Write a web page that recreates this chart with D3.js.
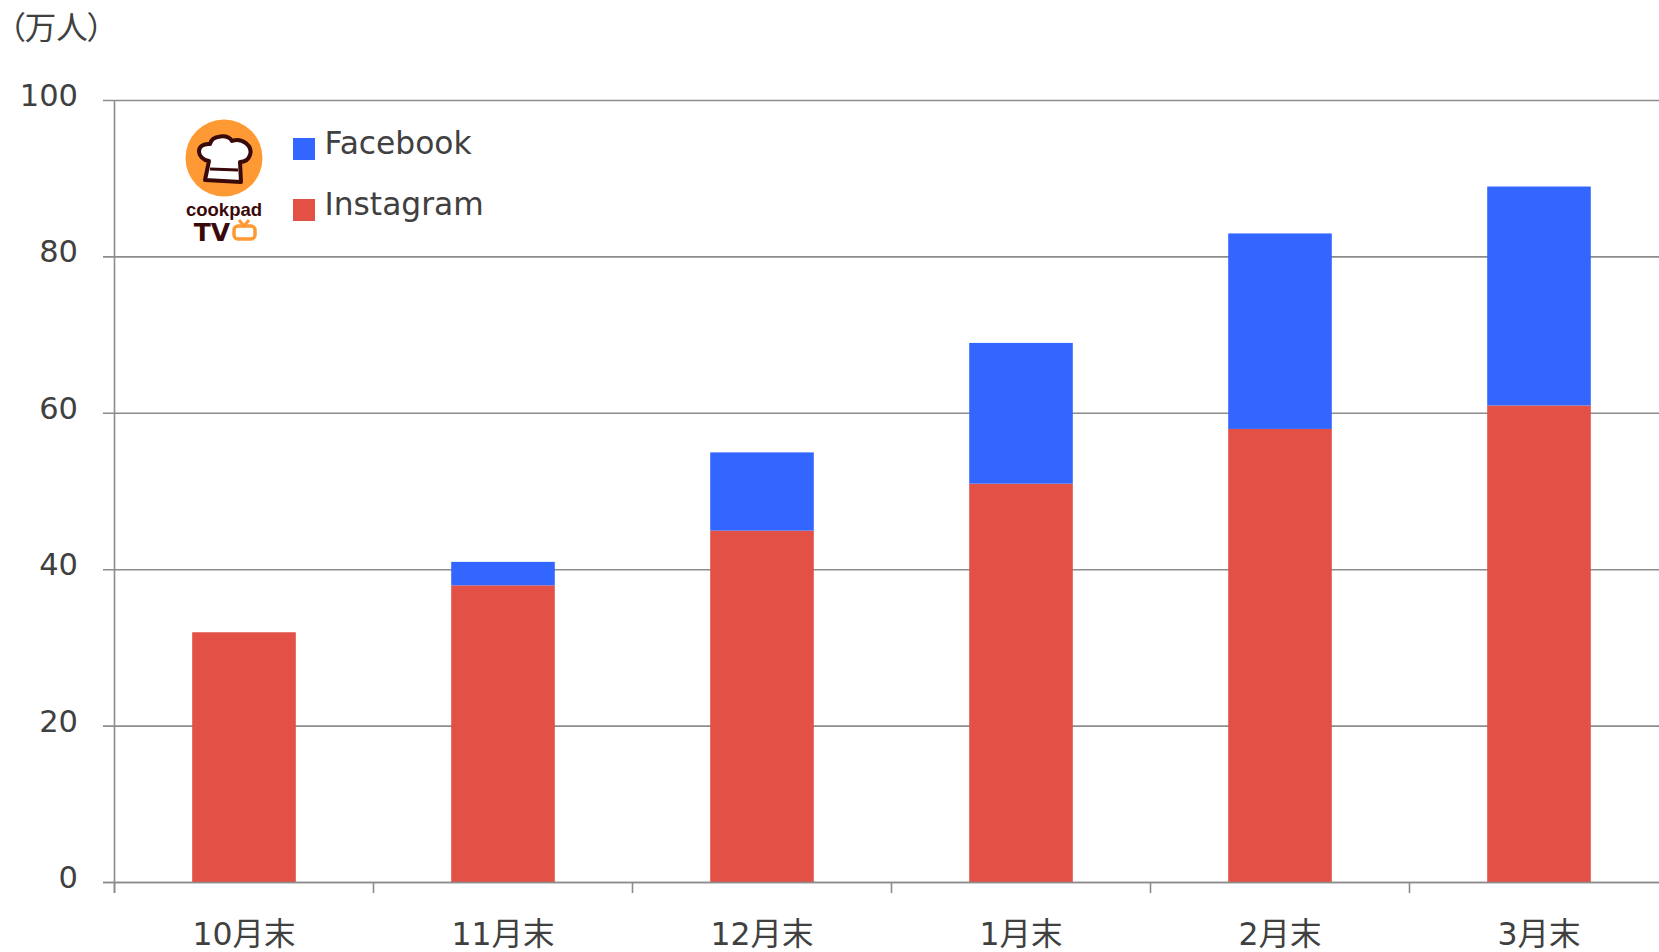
<!DOCTYPE html>
<html><head><meta charset="utf-8">
<script src="https://cdnjs.cloudflare.com/ajax/libs/d3/7.8.5/d3.min.js"></script>
<style>
html,body{margin:0;padding:0;background:#fff;overflow:hidden}
text{font-family:"DejaVu Sans","Noto Sans CJK JP",sans-serif;fill:#404040}
</style></head><body>
<svg id="c" width="1659" height="952"></svg>
<script>
const categories=["10月末","11月末","12月末","1月末","2月末","3月末"];
const instagram=[32,38,45,51,58,61];
const facebook=[0,3,10,18,25,28];
const yTicks=[0,20,40,60,80,100];
const unitLabel="（万人）";
const seriesNames=["Facebook","Instagram"];
const colors={Facebook:"#3366ff",Instagram:"#e25046"};
const axisColor="#8c8c8c";

const svg=d3.select("#c");
const x=d3.scaleBand().domain(categories).range([114.5,1668.5]).paddingInner(0.6).paddingOuter(0.3);
const band=d3.scaleBand().domain(categories).range([114.5,1668.5]);
const y=d3.scaleLinear().domain([0,100]).range([882.5,100.5]);

// gridlines
svg.append("g").selectAll("line").data(yTicks).join("line")
  .attr("x1",103).attr("x2",1659).attr("y1",d=>y(d)).attr("y2",d=>y(d))
  .attr("stroke",axisColor).attr("stroke-width",1.6);
// y axis line
svg.append("line").attr("x1",114.5).attr("x2",114.5).attr("y1",y(100)).attr("y2",893)
  .attr("stroke",axisColor).attr("stroke-width",1.6);
// category ticks
svg.append("g").selectAll("line").data(categories).join("line")
  .attr("x1",d=>band(d)).attr("x2",d=>band(d)).attr("y1",y(0)).attr("y2",893)
  .attr("stroke",axisColor).attr("stroke-width",1.6);

// bars
const bars=svg.append("g");
bars.selectAll("rect.ig").data(categories).join("rect").attr("class","ig")
  .attr("x",d=>x(d)).attr("width",x.bandwidth())
  .attr("y",(d,i)=>y(instagram[i])).attr("height",(d,i)=>y(0)-y(instagram[i]))
  .attr("fill",colors.Instagram);
bars.selectAll("rect.fb").data(categories).join("rect").attr("class","fb")
  .attr("x",d=>x(d)).attr("width",x.bandwidth())
  .attr("y",(d,i)=>y(instagram[i]+facebook[i])).attr("height",(d,i)=>y(instagram[i])-y(instagram[i]+facebook[i]))
  .attr("fill",colors.Facebook);
// redraw axis baseline on top of bars
svg.append("line").attr("x1",103).attr("x2",1659).attr("y1",y(0)).attr("y2",y(0))
  .attr("stroke",axisColor).attr("stroke-width",1.6);

// labels
svg.append("g").selectAll("text").data(yTicks).join("text")
  .attr("x",78).attr("y",d=>y(d)-5.5).attr("dy","0.36em").attr("text-anchor","end")
  .style("font-size","30.5px").text(d=>d);
svg.append("g").selectAll("text").data(categories).join("text")
  .attr("x",d=>x(d)+x.bandwidth()/2).attr("y",945).attr("text-anchor","middle")
  .style("font-size","31.5px").text(d=>d);
svg.append("text").attr("x",9).attr("y",39).style("font-size","31.5px").style("font-family",'"Noto Sans CJK JP"')
  .style("font-feature-settings",'"palt"').text(unitLabel);

// legend
const legend=svg.append("g");
seriesNames.forEach((s,i)=>{
  const g=legend.append("g").attr("transform",`translate(293,${138+i*61})`);
  g.append("rect").attr("width",22).attr("height",22).attr("fill",colors[s]);
  g.append("text").attr("x",31.5).attr("y",16).style("font-size","31.3px").text(s);
});

// logo
const logo=svg.append("g").attr("transform","translate(224,158)");
logo.append("circle").attr("r",38.5).attr("fill","#ff9933");
logo.append("path")
  .attr("d","M-19,22 L-15,3 C-28,1 -29,-15 -14,-14 C-12,-23 4,-24 8,-17 C18,-21 29,-12 26,-3 C24,3 20,4 16,4 L17,24 Z")
  .attr("fill","#fff").attr("stroke","#3a0a0a").attr("stroke-width",4).attr("stroke-linejoin","round");
logo.append("line").attr("x1",-14).attr("x2",14).attr("y1",11).attr("y2",12).attr("stroke","#3a0a0a").attr("stroke-width",3);
svg.append("text").attr("x",224).attr("y",215.5).attr("text-anchor","middle")
  .style("font-size","18.5px").style("font-weight","bold").style("font-family",'"Liberation Sans"').style("fill","#3a0a0a").text("cookpad");
svg.append("text").attr("x",212).attr("y",241).attr("text-anchor","middle")
  .style("font-size","25px").style("font-weight","bold").style("font-family",'"DejaVu Sans"').style("fill","#3a0a0a").text("TV");
svg.append("rect").attr("x",234).attr("y",226).attr("width",21).attr("height",13).attr("rx",4)
  .attr("fill","#fff").attr("stroke","#ff9933").attr("stroke-width",3.5);
svg.append("path").attr("d","M239,220 L244,226 L249,220").attr("fill","none").attr("stroke","#ff9933").attr("stroke-width",3);
</script>
</body></html>
